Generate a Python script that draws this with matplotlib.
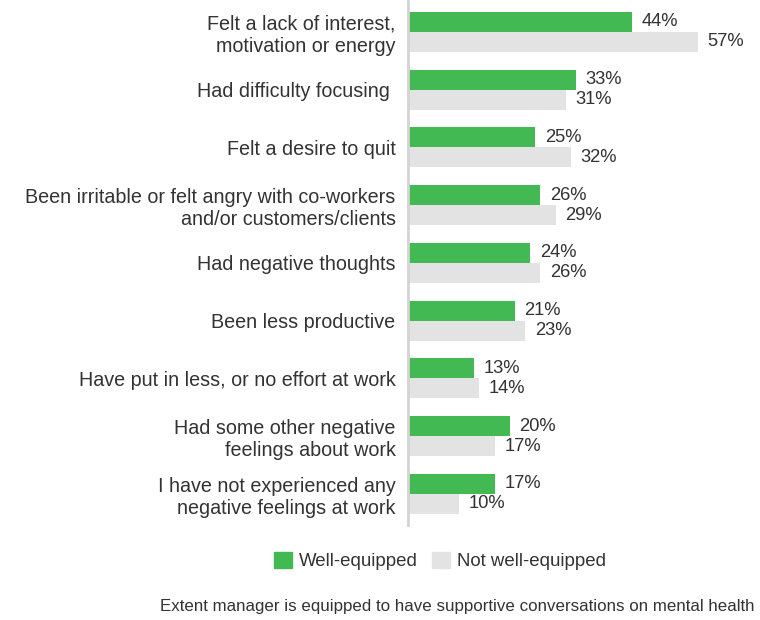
import matplotlib
matplotlib.use('Agg')
import matplotlib.pyplot as plt
import numpy as np
from matplotlib.patches import Patch

# Datos del grafico
categories = [
    'Felt a lack of interest,\nmotivation or energy',
    'Had difficulty focusing ',
    'Felt a desire to quit',
    'Been irritable or felt angry with co-workers\nand/or customers/clients',
    'Had negative thoughts',
    'Been less productive',
    'Have put in less, or no effort at work',
    'Had some other negative\nfeelings about work',
    'I have not experienced any\nnegative feelings at work',
]
well_equipped = [44, 33, 25, 26, 24, 21, 13, 20, 17]
not_well_equipped = [57, 31, 32, 29, 26, 23, 14, 17, 10]
series_names = ['Well-equipped', 'Not well-equipped']

green = '#43B953'
gray = '#E3E3E3'
text_color = '#333333'

plt.rcParams['font.family'] = ['Liberation Sans', 'DejaVu Sans']

fig = plt.figure(figsize=(7.6, 6.2), dpi=100)
ax = fig.add_axes([0.537, 0.153, 0.455, 0.847])

y = np.arange(len(categories))
h = 0.346
ax.barh(y - h / 2, well_equipped, height=h, color=green)
ax.barh(y + h / 2, not_well_equipped, height=h, color=gray)

for i in range(len(categories)):
    ax.text(well_equipped[i] + 1.9, y[i] - h / 2, f'{well_equipped[i]}%',
            va='center', ha='left', fontsize=13.2, color=text_color)
    ax.text(not_well_equipped[i] + 1.9, y[i] + h / 2, f'{not_well_equipped[i]}%',
            va='center', ha='left', fontsize=13.2, color=text_color)

ax.set_xlim(0, 68)
ax.set_ylim(8.54, -0.55)
ax.set_yticks(y)
ax.set_yticklabels(categories, fontsize=14.2, color=text_color, ha='right',
                   multialignment='right', linespacing=1.2)
ax.tick_params(axis='y', length=0, pad=9)
ax.set_xticks([])

for s in ['top', 'right', 'bottom']:
    ax.spines[s].set_visible(False)
ax.spines['left'].set_color('#D4D4D4')
ax.spines['left'].set_linewidth(2)

handles = [Patch(color=green), Patch(color=gray)]
fig.legend(handles, series_names, loc='center', bbox_to_anchor=(0.579, 0.095),
           ncol=2, frameon=False, fontsize=13.4, handlelength=0.95,
           handleheight=0.95, handletextpad=0.4, columnspacing=0.75,
           labelcolor=text_color)

fig.text(0.993, 0.021, 'Extent manager is equipped to have supportive conversations on mental health',
         ha='right', va='center', fontsize=12.2, color=text_color)

plt.savefig('out.png', dpi=100)
